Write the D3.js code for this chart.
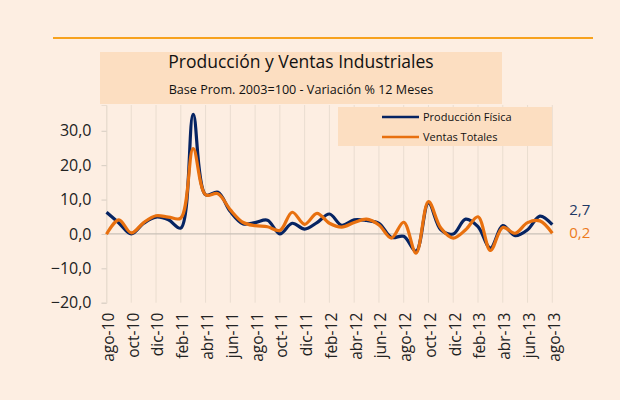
<!DOCTYPE html>
<html>
<head>
<meta charset="utf-8">
<script src="https://cdn.jsdelivr.net/npm/d3@7"></script>
<style>
body { margin: 0; background: #fdeee2; }
svg { display: block; }
text { font-family: "Open Sans", "Noto Sans", sans-serif; }
</style>
</head>
<body>
<svg width="620" height="400"></svg>
<script>
// datos: variación % 12 meses, ago-10 .. ago-13
var months = ["ago-10","sep-10","oct-10","nov-10","dic-10","ene-11","feb-11","mar-11","abr-11","may-11","jun-11","jul-11",
  "ago-11","sep-11","oct-11","nov-11","dic-11","ene-12","feb-12","mar-12","abr-12","may-12","jun-12","jul-12",
  "ago-12","sep-12","oct-12","nov-12","dic-12","ene-13","feb-13","mar-13","abr-13","may-13","jun-13","jul-13","ago-13"];
var produccion = [6.3, 3.2, 0.0, 3.1, 4.9, 4.1, 1.7, 34.8, 11.4, 12.1, 6.5, 3.0,
  3.3, 4.0, 0.0, 3.1, 1.4, 3.3, 5.8, 2.5, 4.1, 3.9, 3.1, -1.0,
  -0.7, -5.0, 9.0, 1.2, 0.0, 4.3, 2.1, -4.1, 2.4, -0.5, 1.2, 5.2, 2.7];
var ventas = [-0.1, 4.1, 0.3, 3.3, 5.3, 4.9, 4.6, 24.8, 11.4, 11.7, 7.0, 3.4,
  2.4, 2.1, 1.0, 6.3, 2.8, 6.0, 3.1, 2.0, 3.3, 4.3, 2.6, -1.2,
  3.4, -5.6, 9.4, 1.7, -1.2, 1.2, 5.0, -4.8, 1.9, 0.2, 3.3, 3.8, 0.2];
var tickLabels = ["ago-10","oct-10","dic-10","feb-11","abr-11","jun-11","ago-11","oct-11","dic-11","feb-12",
  "abr-12","jun-12","ago-12","oct-12","dic-12","feb-13","abr-13","jun-13","ago-13"];
var yTicks = [-20, -10, 0, 10, 20, 30];
var seriesNames = ["Producción Física", "Ventas Totales"];
var colors = ["#062463", "#e8700f"];

var svg = d3.select('svg');
var fmt = function(v){ return d3.format('.1f')(v).replace('.', ','); };

var x = d3.scalePoint().domain(months).range([106.5, 552.3]);
var y = d3.scaleLinear().domain([-20, 37.5]).range([302.7, 105]);

// linea naranja superior
svg.append('line')
  .attr('x1', 53).attr('x2', 593).attr('y1', 38).attr('y2', 38)
  .attr('stroke', '#f7a21e').attr('stroke-width', 2);

// grilla vertical
svg.append('g').selectAll('line')
  .data(tickLabels)
  .enter().append('line')
    .attr('x1', function(d){ return x(d); })
    .attr('x2', function(d){ return x(d); })
    .attr('y1', y.range()[1]).attr('y2', y.range()[0])
    .attr('stroke', '#eaddd0').attr('stroke-width', 1);

// eje y
var yAxis = svg.append('g')
  .attr('transform', 'translate(' + x(months[0]) + ',0)')
  .call(d3.axisLeft(y).tickValues(yTicks).tickFormat(fmt).tickSize(5).tickPadding(10));
yAxis.select('.domain').attr('stroke', '#eaddd0');
yAxis.selectAll('.tick line').attr('stroke', '#d5ccc2');
yAxis.selectAll('text').attr('fill', '#222').style('font-size', '16px');

// linea de cero
svg.append('line')
  .attr('x1', x(months[0])).attr('x2', x(months[months.length-1]))
  .attr('y1', y(0)).attr('y2', y(0))
  .attr('stroke', '#c9c0b7').attr('stroke-width', 1.2);

// eje x
var xAxis = svg.append('g')
  .attr('transform', 'translate(0,' + y(-20) + ')')
  .call(d3.axisBottom(x).tickValues(tickLabels).tickSize(0).tickPadding(10));
xAxis.select('.domain').remove();
xAxis.selectAll('text')
  .attr('fill', '#222')
  .style('font-size', '15.5px')
  .attr('transform', 'rotate(-90)')
  .attr('text-anchor', 'end')
  .attr('x', -10).attr('y', 1.5).attr('dy', '0.35em');

// series
var line = d3.line()
  .x(function(d, i){ return x(months[i]); })
  .y(function(d){ return y(d); })
  .curve(d3.curveCatmullRom.alpha(0.5));

[produccion, ventas].forEach(function(s, k){
  svg.append('path')
    .datum(s)
    .attr('d', line)
    .attr('fill', 'none')
    .attr('stroke', colors[k])
    .attr('stroke-width', 3.2)
    .attr('stroke-linejoin', 'round');
});

// etiquetas finales
var last = months.length - 1;
svg.append('text')
  .attr('x', x(months[last]) + 17).attr('y', y(produccion[last]) - 10)
  .attr('fill', '#1f3864').style('font-size', '15px')
  .text(fmt(produccion[last]));
svg.append('text')
  .attr('x', x(months[last]) + 17).attr('y', y(ventas[last]) + 5)
  .attr('fill', '#ec7a1c').style('font-size', '15px')
  .text(fmt(ventas[last]));

// titulo
svg.append('rect')
  .attr('x', 100).attr('y', 52).attr('width', 402).attr('height', 52)
  .attr('fill', '#fcdec1');
svg.append('text')
  .attr('x', 301).attr('y', 68).attr('text-anchor', 'middle')
  .attr('fill', '#111').style('font-size', '17.5px')
  .text('Producción y Ventas Industriales');
svg.append('text')
  .attr('x', 301).attr('y', 94).attr('text-anchor', 'middle')
  .attr('fill', '#111').style('font-size', '12.6px')
  .text('Base Prom. 2003=100 - Variación % 12 Meses');

// leyenda
var legend = svg.append('g');
legend.append('rect')
  .attr('x', 338).attr('y', 107).attr('width', 214).attr('height', 39)
  .attr('fill', '#fcdec1');
seriesNames.forEach(function(n, k){
  legend.append('line')
    .attr('x1', 382).attr('x2', 419)
    .attr('y1', 117 + k*20).attr('y2', 117 + k*20)
    .attr('stroke', colors[k]).attr('stroke-width', 2.5);
  legend.append('text')
    .attr('x', 423).attr('y', 117 + k*20).attr('dy', '0.35em')
    .attr('fill', '#111').style('font-size', '11px')
    .text(n);
});
</script>
</body>
</html>
